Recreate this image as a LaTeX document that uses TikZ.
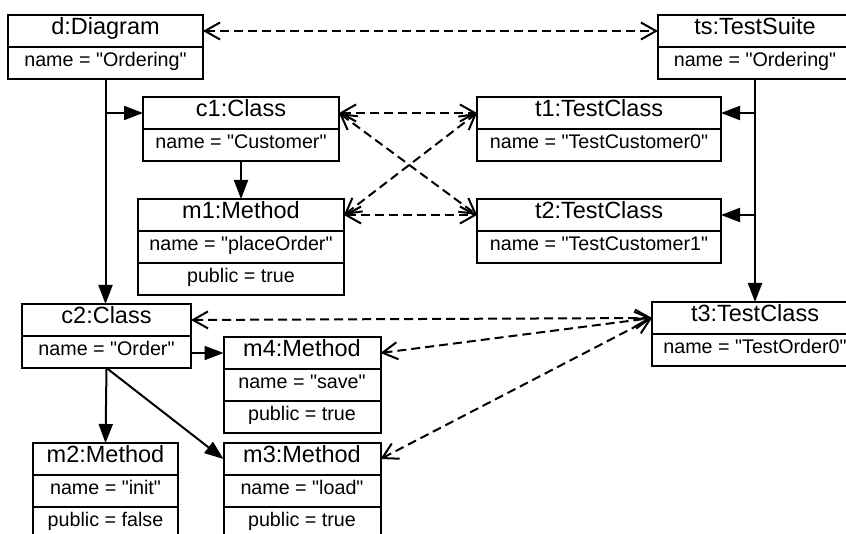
\documentclass[tikz,border=0pt]{standalone}
\usepackage{fontspec}
\setmainfont{Liberation Sans}[Ligatures=TeXOff]
\usepackage{tikz}
\usetikzlibrary{positioning,arrows.meta}
\tikzstyle{head} = [draw, rectangle, line width=2pt, outer sep=0pt, inner sep=0pt,
    minimum height=32pt, text height=0.72em, text depth=0pt,
    font=\fontsize{23.5}{28}\selectfont]
\tikzstyle{attr} = [draw, rectangle, line width=2pt, outer sep=0pt, inner sep=0pt,
    minimum height=32pt, text height=0.72em, text depth=0pt,
    font=\fontsize{19.7}{24}\selectfont]
\tikzstyle{assoc} = [draw, line width=2pt, -{Triangle[length=19pt,width=14pt]}]
\tikzstyle{trace} = [draw, line width=2pt, dash pattern=on 9pt off 5pt,
    {Straight Barb[length=15pt,width=17pt]}-{Straight Barb[length=15pt,width=17pt]}]

\begin{document}
\begin{tikzpicture}[x=1pt, y=-1pt, node distance=0pt]
    \useasboundingbox (0,0) rectangle (846,534);
    % % % % % % % % % % % % % % % % % % % % % % %
    % Model side
    % % % % % % % % % % % % % % % % % % % % % % %
    % Diagram
    \node [head, minimum width=195pt] at (105.5,31) (d) {d:Diagram};
    \node [attr, minimum width=195pt, below=of d] (d-name) {name = "Ordering"};

    % first class and its method
    \node [head, minimum width=196pt] at (241,113) (c1) {c1:Class};
    \node [attr, minimum width=196pt, below=of c1] (c1-name) {name = "Customer"};
    \node [head, minimum width=206pt] at (241,215) (m1) {m1:Method};
    \node [attr, minimum width=206pt, below=of m1] (m1-name) {name = "placeOrder"};
    \node [attr, minimum width=206pt, below=of m1-name] (m1-pub) {public = true};

    % second class
    \node [head, minimum width=169pt] at (106.5,320) (c2) {c2:Class};
    \node [attr, minimum width=169pt, below=of c2] (c2-name) {name = "Order"};

    % methods of the second class
    \node [head, minimum width=157pt] at (302,353) (m4) {m4:Method};
    \node [attr, minimum width=157pt, below=of m4] (m4-name) {name = "save"};
    \node [attr, minimum width=157pt, below=of m4-name] (m4-pub) {public = true};
    \node [head, minimum width=145pt] at (105.5,459) (m2) {m2:Method};
    \node [attr, minimum width=145pt, below=of m2] (m2-name) {name = "init"};
    \node [attr, minimum width=145pt, below=of m2-name] (m2-pub) {public = false};
    \node [head, minimum width=157pt] at (302,459) (m3) {m3:Method};
    \node [attr, minimum width=157pt, below=of m3] (m3-name) {name = "load"};
    \node [attr, minimum width=157pt, below=of m3-name] (m3-pub) {public = true};

    % % % % % % % % % % % % % % % % % % % % % % %
    % Test side
    % % % % % % % % % % % % % % % % % % % % % % %
    \node [head, minimum width=194pt] at (755,31) (ts) {ts:TestSuite};
    \node [attr, minimum width=194pt, below=of ts] (ts-name) {name = "Ordering"};
    \node [head, minimum width=244pt] at (599,113) (t1) {t1:TestClass};
    \node [attr, minimum width=244pt, below=of t1] (t1-name) {name = "TestCustomer0"};
    \node [head, minimum width=244pt] at (599,215) (t2) {t2:TestClass};
    \node [attr, minimum width=244pt, below=of t2] (t2-name) {name = "TestCustomer1"};
    \node [head, minimum width=206pt] at (755,318) (t3) {t3:TestClass};
    \node [attr, minimum width=206pt, below=of t3] (t3-name) {name = "TestOrder0"};

    % containment
    \draw [assoc] (d-name.south) -- (d-name.south |- c2.north);
    \draw [assoc] (d-name.south |- c1.west) -- (c1.west);
    \draw [assoc] (c1-name.south) -- (m1.north);
    \draw [assoc] (c2-name.east |- m4.west) -- (m4.west);
    \draw [assoc] (c2-name.south) -- (m2.north);
    \draw [assoc] (c2-name.south) -- (m3.west);
    \draw [assoc] (ts-name.south) -- (ts-name.south |- t3.north);
    \draw [assoc] (ts-name.south |- t1.east) -- (t1.east);
    \draw [assoc] (ts-name.south |- t2.east) -- (t2.east);

    % trace links
    \draw [trace] (d.east) -- (ts.west);
    \draw [trace] (c1.east) -- (t1.west);
    \draw [trace] (c1.east) -- (t2.west);
    \draw [trace] (m1.east) -- (t1.west);
    \draw [trace] (m1.east) -- (t2.west);
    \draw [trace] (c2.east) -- (t3.west);
    \draw [trace] (m4.east) -- (t3.west);
    \draw [trace] (m3.east) -- (t3.west);
\end{tikzpicture}
\end{document}
